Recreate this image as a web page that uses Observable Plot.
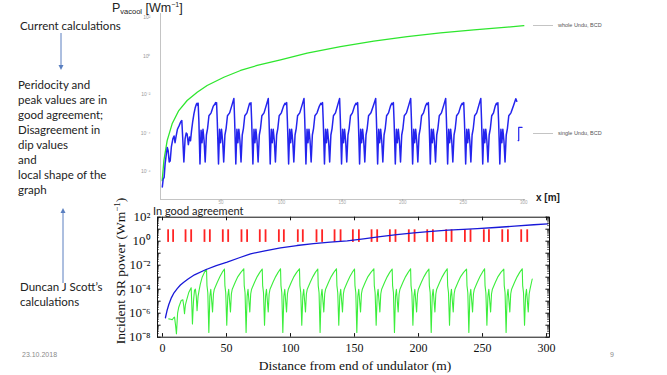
<!DOCTYPE html>
<html><head><meta charset="utf-8">
<script src="https://cdn.jsdelivr.net/npm/d3@7"></script>
<script src="https://cdn.jsdelivr.net/npm/@observablehq/plot@0.6"></script>
<style>
html,body{margin:0;padding:0;background:#fff;}
#root{position:relative;width:667px;height:375px;overflow:hidden;background:#fff;font-family:Lato,"Liberation Sans",sans-serif;}
.abs{position:absolute;white-space:nowrap;}
.note{font-size:11.5px;color:#222;line-height:15px;}
.leg{font-family:"Liberation Sans",sans-serif;font-size:5.5px;color:#555;}
.legline{height:0;border-top:1px solid #c4c4c4;width:20px;}
.serif{font-family:"Liberation Serif",serif;color:#111;}
.foot{font-size:7px;color:#8a8a8a;font-family:"Liberation Sans",sans-serif;}
</style></head><body><div id="root"></div>
<script>
// ---------- data (x in m, value as log10 of power in W/m) ----------
const topXTicks = [50, 100, 150, 200, 250, 300];
const topYTickExp = [2, 0, -2, -4, -6];
const botXTicks = [0, 50, 100, 150, 200, 250, 300];
const botYTickExp = [2, 0, -2, -4, -6, -8];

// current calculations: whole undulator (green)
const wholeUnduBCD = [[1.4,-6.47],[2.8,-5.43],[5.5,-4.39],[9.6,-3.52],[15.1,-2.83],[22.0,-2.31],[30.3,-1.88],[38.5,-1.53],[52.3,-1.10],[66.1,-0.75],[79.8,-0.49],[99.1,-0.20],[121.1,0.15],[148.6,0.49],[176.1,0.77],[203.7,1.01],[231.2,1.20],[258.7,1.36],[286.3,1.50],[300.0,1.58]];

// current calculations: single undulator (blue)
const singleUnduBCD = [
[1.5,-6.8],[2.2,-6.4],[3.0,-6.3],[3.8,-5.6],[4.8,-5.1],[5.6,-4.75],[6.3,-4.9],[7.2,-5.5],[8.0,-5.45],[9.0,-4.7],[10.2,-4.3],[11.2,-4.15],[12.0,-4.5],[12.8,-4.2],[14.0,-3.8],[15.5,-3.6],[16.8,-3.4],[17.6,-3.35],
[18.3,-4.2],[19.3,-5.5],[20.3,-4.3],[21.2,-4.0],[22.0,-4.05],[23.0,-4.6],[24.0,-4.2],[24.8,-4.4],[25.6,-3.9],[26.6,-3.4],[27.6,-3.0],[28.6,-2.7],[29.6,-2.5],[30.2,-2.45],[30.6,-2.55],[31.1,-2.45],
[31.7,-3.4],[32.6,-5.6],[33.5,-3.85],[34.3,-4.5],[35.1,-3.8],[36.0,-4.4],[36.9,-5.5],[37.9,-4.1],[38.9,-3.75],[40.0,-3.1],[41.8,-2.95],[43.6,-2.6],[44.8,-2.5],[45.5,-2.42],[45.9,-2.52],[46.3,-2.42],
[46.9,-3.4],[47.9,-5.6],[48.8,-3.8],[49.6,-4.5],[50.4,-3.8],[51.3,-4.4],[52.2,-5.5],[53.2,-4.1],[54.2,-3.75],[55.3,-3.1],[57.1,-2.95],[59.0,-2.55],[60.6,-2.2],
[61.2,-3.3],[62.2,-5.6],[63.1,-3.8],[63.9,-4.5],[64.7,-3.8],[65.6,-4.4],[66.5,-5.5],[67.5,-4.1],[68.5,-3.75],[69.6,-3.1],[71.4,-2.95],[72.9,-2.6],[73.6,-2.45],[74.2,-2.52],[74.7,-2.42],
[75.3,-3.4],[76.3,-5.6],[77.2,-3.8],[78.0,-4.5],[78.8,-3.8],[79.7,-4.4],[80.6,-5.5],[81.6,-4.1],[82.6,-3.75],[83.7,-3.1],[85.5,-2.95],[87.4,-2.55],[89.0,-2.2],
[89.6,-3.3],[90.6,-5.6],[91.5,-3.8],[92.3,-4.5],[93.1,-3.8],[94.0,-4.4],[94.9,-5.5],[95.9,-4.1],[96.9,-3.75],[98.0,-3.1],[99.8,-2.95],[101.6,-2.6],[102.9,-2.45],[103.6,-2.52],[104.2,-2.42],
[104.8,-3.4],[105.8,-5.6],[106.7,-3.8],[107.5,-4.5],[108.3,-3.8],[109.2,-4.4],[110.1,-5.5],[111.1,-4.1],[112.1,-3.75],[113.2,-3.1],[115.0,-2.95],[116.9,-2.55],[118.5,-2.2],
[119.1,-3.3],[120.1,-5.6],[121.0,-3.8],[121.8,-4.5],[122.6,-3.8],[123.5,-4.4],[124.4,-5.5],[125.4,-4.1],[126.4,-3.75],[127.5,-3.1],[129.3,-2.95],[131.2,-2.6],[132.5,-2.45],[133.2,-2.52],[133.8,-2.42],
[134.4,-3.4],[135.4,-5.6],[136.3,-3.8],[137.1,-4.5],[137.9,-3.8],[138.8,-4.4],[139.7,-5.5],[140.7,-4.1],[141.7,-3.75],[142.8,-3.1],[144.5,-2.95],[146.3,-2.55],[147.9,-2.2],
[148.5,-3.3],[149.5,-5.6],[150.4,-3.8],[151.2,-4.5],[152.0,-3.8],[152.9,-4.4],[153.8,-5.5],[154.8,-4.1],[155.8,-3.75],[156.9,-3.1],[158.5,-2.95],[160.2,-2.6],[161.5,-2.45],[162.2,-2.52],[162.8,-2.42],
[163.4,-3.4],[164.4,-5.6],[165.3,-3.8],[166.1,-4.5],[166.9,-3.8],[167.8,-4.4],[168.7,-5.5],[169.7,-4.1],[170.7,-3.75],[171.8,-3.1],[173.8,-2.95],[175.9,-2.55],[177.7,-2.2],
[178.3,-3.3],[179.3,-5.6],[180.2,-3.8],[181.0,-4.5],[181.8,-3.8],[182.7,-4.4],[183.6,-5.5],[184.6,-4.1],[185.6,-3.75],[186.7,-3.1],[188.3,-2.95],[189.9,-2.6],[191.0,-2.45],[191.7,-2.52],[192.3,-2.42],
[192.9,-3.4],[193.9,-5.6],[194.8,-3.8],[195.6,-4.5],[196.4,-3.8],[197.3,-4.4],[198.2,-5.5],[199.2,-4.1],[200.2,-3.75],[201.3,-3.1],[203.1,-2.95],[205.0,-2.55],[206.6,-2.2],
[207.2,-3.3],[208.2,-5.6],[209.1,-3.8],[209.9,-4.5],[210.7,-3.8],[211.6,-4.4],[212.5,-5.5],[213.5,-4.1],[214.5,-3.75],[215.6,-3.1],[217.2,-2.95],[218.8,-2.6],[219.9,-2.45],[220.6,-2.52],[221.2,-2.42],
[221.8,-3.4],[222.8,-5.6],[223.7,-3.8],[224.5,-4.5],[225.3,-3.8],[226.2,-4.4],[227.1,-5.5],[228.1,-4.1],[229.1,-3.75],[230.2,-3.1],[232.0,-2.95],[233.9,-2.55],[235.5,-2.2],
[236.1,-3.3],[237.1,-5.6],[238.0,-3.8],[238.8,-4.5],[239.6,-3.8],[240.5,-4.4],[241.4,-5.5],[242.4,-4.1],[243.4,-3.75],[244.5,-3.1],[246.2,-2.95],[247.9,-2.6],[249.1,-2.45],[249.8,-2.52],[250.4,-2.42],
[251.0,-3.4],[252.0,-5.6],[252.9,-3.8],[253.7,-4.5],[254.5,-3.8],[255.4,-4.4],[256.3,-5.5],[257.3,-4.1],[258.3,-3.75],[259.4,-3.1],[261.1,-2.95],[262.9,-2.55],[264.5,-2.2],
[265.1,-3.3],[266.1,-5.6],[267.0,-3.8],[267.8,-4.5],[268.6,-3.8],[269.5,-4.4],[270.4,-5.5],[271.4,-4.1],[272.4,-3.75],[273.5,-3.1],[275.0,-2.95],[276.4,-2.6],[277.4,-2.45],[278.1,-2.52],[278.6,-2.42],
[279.2,-3.4],[280.2,-5.6],[281.1,-3.8],[281.9,-4.5],[282.7,-3.8],[283.6,-4.4],[284.5,-5.5],[285.5,-4.1],[286.5,-3.75],[287.6,-3.1],[289.4,-2.95],[291.6,-2.55],[293.4,-2.22],[294.2,-2.35]
];
const singleUnduBCDTail = [[295.3,-4.39],[295.8,-4.39],[295.8,-3.70],[298.6,-3.70]];

// Duncan J Scott's calculations: whole undulator (blue)
const scottWhole = [[2.3,-6.38],[3.5,-5.8],[5,-5.25],[7,-4.7],[9,-4.3],[11.5,-3.95],[14,-3.65],[16.6,-3.42],[20,-3.15],[25,-2.8],[33.6,-2.38],[42,-2.03],[50.5,-1.75],[60,-1.38],[68.8,-1.05],[80,-0.8],[92.2,-0.55],[105,-0.36],[118,-0.2],[131,-0.08],[144.3,0.03],[157,0.2],[170,0.38],[183,0.55],[196.4,0.7],[210,0.82],[223,0.92],[235,0.99],[245.9,1.05],[260,1.14],[275,1.25],[290,1.37],[301,1.45]];

// Duncan J Scott's calculations: single undulator (green)
const scottSingle = [
[4.9,-6.47],[6.5,-6.5],[7.6,-6.55],[8.6,-6.4],[9.4,-6.33],[10.2,-7.0],[10.9,-7.72],[11.8,-6.0],[12.7,-5.5],[14.6,-4.94],[15.9,-4.88],[16.6,-5.4],[17.2,-6.05],[17.9,-5.3],[18.8,-4.94],[20.6,-4.25],[22.4,-3.88],[22.8,-5.0],[23.4,-6.9],[24.2,-5.0],[25.0,-4.1],[25.7,-4.0],[26.4,-4.6],[27.0,-5.8],[27.8,-4.6],[28.6,-4.1],[29.5,-3.6],[31.0,-3.0],[32.7,-2.6],[34.4,-2.35],
[34.75,-3.7],[35.4,-4.3],[36.2,-7.6],[37.0,-4.6],[37.7,-4.0],[39.1,-5.9],[39.8,-4.4],[40.5,-4.0],[42.9,-3.4],[44.9,-2.95],[46.6,-2.6],[48.4,-2.32],
[48.75,-3.7],[49.4,-4.3],[50.2,-7.0],[51.0,-4.6],[51.7,-4.0],[53.1,-5.9],[53.8,-4.4],[54.5,-4.0],[56.9,-3.4],[58.9,-2.95],[61.2,-2.6],[63.5,-2.3],
[63.85,-3.7],[64.5,-4.3],[65.3,-7.6],[66.1,-4.6],[66.8,-4.0],[68.2,-5.9],[68.9,-4.4],[69.6,-4.0],[72.0,-3.4],[74.0,-2.95],[76.0,-2.6],[77.9,-2.32],
[78.25,-3.7],[78.9,-4.3],[79.7,-7.0],[80.5,-4.6],[81.2,-4.0],[82.6,-5.9],[83.3,-4.4],[84.0,-4.0],[86.4,-3.4],[88.4,-2.95],[90.3,-2.6],[92.2,-2.3],
[92.55,-3.7],[93.2,-4.3],[94.0,-7.6],[94.8,-4.6],[95.5,-4.0],[96.9,-5.9],[97.6,-4.4],[98.3,-4.0],[100.7,-3.4],[102.7,-2.95],[104.8,-2.6],[107.0,-2.3],
[107.35,-3.7],[108.0,-4.3],[108.8,-7.0],[109.6,-4.6],[110.3,-4.0],[111.7,-5.9],[112.4,-4.4],[113.1,-4.0],[115.5,-3.4],[117.5,-2.95],[119.4,-2.6],[121.3,-2.32],
[121.65,-3.7],[122.3,-4.3],[123.1,-7.6],[123.9,-4.6],[124.6,-4.0],[126.0,-5.9],[126.7,-4.4],[127.4,-4.0],[129.8,-3.4],[131.8,-2.95],[133.8,-2.6],[135.9,-2.3],
[136.25,-3.7],[136.9,-4.3],[137.7,-7.0],[138.5,-4.6],[139.2,-4.0],[140.6,-5.9],[141.3,-4.4],[142.0,-4.0],[144.4,-3.4],[146.4,-2.95],[148.2,-2.6],[150.0,-2.32],
[150.35,-3.7],[151.0,-4.3],[151.8,-7.6],[152.6,-4.6],[153.3,-4.0],[154.7,-5.9],[155.4,-4.4],[156.1,-4.0],[158.5,-3.4],[160.5,-2.95],[162.8,-2.6],[165.1,-2.3],
[165.45,-3.7],[166.1,-4.3],[166.9,-7.0],[167.7,-4.6],[168.4,-4.0],[169.8,-5.9],[170.5,-4.4],[171.2,-4.0],[173.6,-3.4],[175.6,-2.95],[177.5,-2.6],[179.4,-2.32],
[179.75,-3.7],[180.4,-4.3],[181.2,-7.6],[182.0,-4.6],[182.7,-4.0],[184.1,-5.9],[184.8,-4.4],[185.5,-4.0],[187.9,-3.4],[189.9,-2.95],[191.9,-2.6],[193.8,-2.3],
[194.15,-3.7],[194.8,-4.3],[195.6,-7.0],[196.4,-4.6],[197.1,-4.0],[198.5,-5.9],[199.2,-4.4],[199.9,-4.0],[202.3,-3.4],[204.3,-2.95],[206.2,-2.6],[208.1,-2.32],
[208.45,-3.7],[209.1,-4.3],[209.9,-7.6],[210.7,-4.6],[211.4,-4.0],[212.8,-5.9],[213.5,-4.4],[214.2,-4.0],[216.6,-3.4],[218.6,-2.95],[220.5,-2.6],[222.4,-2.3],
[222.75,-3.7],[223.4,-4.3],[224.2,-7.0],[225.0,-4.6],[225.7,-4.0],[227.1,-5.9],[227.8,-4.4],[228.5,-4.0],[230.9,-3.4],[232.9,-2.95],[235.2,-2.6],[237.5,-2.32],
[237.85,-3.7],[238.5,-4.3],[239.3,-7.6],[240.1,-4.6],[240.8,-4.0],[242.2,-5.9],[242.9,-4.4],[243.6,-4.0],[246.0,-3.4],[248.0,-2.95],[249.8,-2.6],[251.6,-2.3],
[251.95,-3.7],[252.6,-4.3],[253.4,-7.0],[254.2,-4.6],[254.9,-4.0],[256.3,-5.9],[257.0,-4.4],[257.7,-4.0],[260.1,-3.4],[262.1,-2.95],[264.3,-2.6],[266.6,-2.32],
[266.95,-3.7],[267.6,-4.3],[268.4,-7.6],[269.2,-4.6],[269.9,-4.0],[271.3,-5.9],[272.0,-4.4],[272.7,-4.0],[275.1,-3.4],[277.1,-2.95],[279.0,-2.6],[281.0,-2.3],
[281.35,-3.7],[282.0,-4.3],[282.8,-7.0],[283.6,-4.6],[284.3,-4.0],[285.7,-5.9],[286.4,-4.4],[287.1,-4.0],[288.8,-3.15]
];

// red markers (positions in m), spanning log10 range
const redMarkers = [4.4,8.3,18.0,22.4,32.8,37.0,47.1,51.3,61.7,66.1,76.0,80.5,90.9,94.8,105.7,109.6,120.3,124.7,134.4,139.1,148.7,153.4,163.3,167.7,177.6,182.0,192.4,196.9,206.8,211.2,221.6,225.8,236.2,240.6,251.0,255.0,265.4,269.8,280.2,284.9];
const redMarkerRange = [-0.1, 0.95];

// ---------- helpers ----------
const toPts = arr => arr.map(([x, e]) => ({x, y: 10 ** e}));
const supMap = {"-":"⁻","0":"⁰","1":"¹","2":"²","3":"³","4":"⁴","5":"⁵","6":"⁶","7":"⁷","8":"⁸","9":"⁹"};
const pow10 = d => "10" + String(Math.round(Math.log10(d))).split("").map(c => supMap[c]).join("");

const root = document.getElementById("root");
function place(el, left, top) {
  const d = document.createElement("div");
  d.className = "abs"; d.style.left = left + "px"; d.style.top = top + "px";
  d.appendChild(el); root.appendChild(d); return d;
}
function html(h, left, top, cls, extra) {
  const d = document.createElement("div");
  d.className = "abs " + (cls || ""); d.style.left = left + "px"; d.style.top = top + "px";
  if (extra) Object.assign(d.style, extra);
  d.innerHTML = h; root.appendChild(d); return d;
}

// ---------- top chart (current calculations) ----------
const topYMin = 10 ** -7.45, topYMax = 10 ** 2.21;
const topChart = Plot.plot({
  width: 520, height: 210,
  marginLeft: 60, marginRight: 96.7, marginTop: 13, marginBottom: 11,
  x: {domain: [0, 300], label: null},
  y: {type: "log", domain: [topYMin, topYMax], label: null},
  style: {background: "transparent", fontFamily: "Liberation Sans, sans-serif", overflow: "visible"},
  marks: [
    Plot.ruleX([0], {stroke: "#c4c4c4"}),
    Plot.ruleY([topYMin], {x1: 0, x2: 301.5, stroke: "#c4c4c4"}),
    Plot.axisY(topYTickExp.map(e => 10 ** e), {tickFormat: pow10, tickSize: 0, tickPadding: 10, fontSize: 5, color: "#9a9a9a", label: null}),
    Plot.axisX(topXTicks, {tickSize: 1.5, tickPadding: -0.5, fontSize: 4.5, color: "#a8a8a8", label: null}),
    Plot.line(toPts(wholeUnduBCD), {x: "x", y: "y", stroke: "#2ee62e", strokeWidth: 1.3}),
    Plot.line(toPts(singleUnduBCD), {x: "x", y: "y", stroke: "#2424ee", strokeWidth: 1.5}),
    Plot.line(toPts(singleUnduBCDTail), {x: "x", y: "y", stroke: "#2424ee", strokeWidth: 1.2})
  ]
});
place(topChart, 100, 0);

// ---------- bottom chart (Duncan J Scott) ----------
const bx = [-3.9, 302.3];
const allDec = d3.range(-8, 3);
const minor = d3.range(-8, 2).flatMap(e => d3.range(2, 10).map(k => k * 10 ** e));
const botChart = Plot.plot({
  width: 470, height: 175,
  marginLeft: 57, marginRight: 21, marginTop: 16.7, marginBottom: 38.3,
  x: {domain: bx, label: null},
  y: {type: "log", domain: [1e-8, 1e2], label: null},
  style: {background: "transparent", fontFamily: "Liberation Serif, serif", overflow: "visible", color: "#111"},
  marks: [
    Plot.ruleX(redMarkers, {y1: 10 ** redMarkerRange[0], y2: 10 ** redMarkerRange[1], stroke: "#ff2424", strokeWidth: 1.8}),
    Plot.line(toPts(scottSingle), {x: "x", y: "y", stroke: "#3cee3c", strokeWidth: 1.1}),
    Plot.line(toPts(scottWhole), {x: "x", y: "y", stroke: "#1818d8", strokeWidth: 1.3}),
    Plot.ruleY(allDec.map(e => 10 ** e), {x1: bx[0], x2: bx[0] + 2.8, stroke: "#111"}),
    Plot.ruleY(allDec.map(e => 10 ** e), {x1: bx[1] - 2.8, x2: bx[1], stroke: "#111"}),
    Plot.ruleY(minor, {x1: bx[0], x2: bx[0] + 1.5, stroke: "#111", strokeWidth: 0.6}),
    Plot.ruleY(minor, {x1: bx[1] - 1.5, x2: bx[1], stroke: "#111", strokeWidth: 0.6}),
    Plot.ruleX(botXTicks, {y1: 1e-8, y2: 10 ** -7.7, stroke: "#111"}),
    Plot.ruleX(botXTicks, {y1: 10 ** 1.7, y2: 1e2, stroke: "#111"}),
    Plot.frame({stroke: "#111", strokeWidth: 1}),
    Plot.axisY(botYTickExp.map(e => 10 ** e), {tickFormat: pow10, tickSize: 0, tickPadding: 7, fontSize: 13, label: null}),
    Plot.axisX(botXTicks, {tickSize: 0, tickPadding: 6, fontSize: 12, label: null})
  ]
});
place(botChart, 100, 200);

// ---------- titles, legends, annotations ----------
html('P<span style="font-size:7.5px;vertical-align:-2px">vacool</span> [Wm<span style="font-size:7px;vertical-align:5px">−1</span>]', 112, 1, "", {fontFamily: "Liberation Sans, sans-serif", fontSize: "12.5px", color: "#222"});
html("x [m]", 536, 192, "", {fontFamily: "Liberation Sans, sans-serif", fontSize: "10px", color: "#222", fontWeight: "bold"});
html("", 533, 25, "legline");
html("", 533, 133, "legline");
html("whole Undu, BCD", 558, 21.5, "leg");
html("single Undu, BCD", 558, 129.5, "leg");

html("In good agreement", 153, 205, "note", {fontSize: "11px", lineHeight: "11px"});
html("Distance from end of undulator (m)", 105, 358, "serif", {width: "500px", textAlign: "center", fontSize: "13.5px", lineHeight: "16px"});
html("Incident SR power (Wm<sup style='font-size:9px'>−1</sup>)", 119, 271, "serif", {fontSize: "13.5px", transform: "translate(-50%,-50%) rotate(-90deg)", lineHeight: "16px"});

html("Current calculations", 20, 18, "note");
html("Peridocity and<br>peak values are in<br>good agreement;<br>Disagreement in<br>dip values<br>and<br>local shape of the<br>graph", 18, 76.5, "note");
html("Duncan J Scott’s<br>calculations", 20, 278.5, "note");
html("23.10.2018", 22, 351, "foot");
html("9", 610, 351, "foot");

// arrows
const svgNS = "http://www.w3.org/2000/svg";
const arr = document.createElementNS(svgNS, "svg");
arr.setAttribute("width", 667); arr.setAttribute("height", 375);
arr.style.position = "absolute"; arr.style.left = "0"; arr.style.top = "0"; arr.style.pointerEvents = "none";
arr.innerHTML = '<line x1="61" y1="33" x2="61" y2="66" stroke="#5a7fc0" stroke-width="1"/><polygon points="58.5,65 63.5,65 61,70" fill="#5a7fc0"/>' +
  '<line x1="63" y1="212" x2="63" y2="283" stroke="#5a7fc0" stroke-width="1"/><polygon points="60.5,213 65.5,213 63,208" fill="#5a7fc0"/>';
root.appendChild(arr);
</script></body></html>
